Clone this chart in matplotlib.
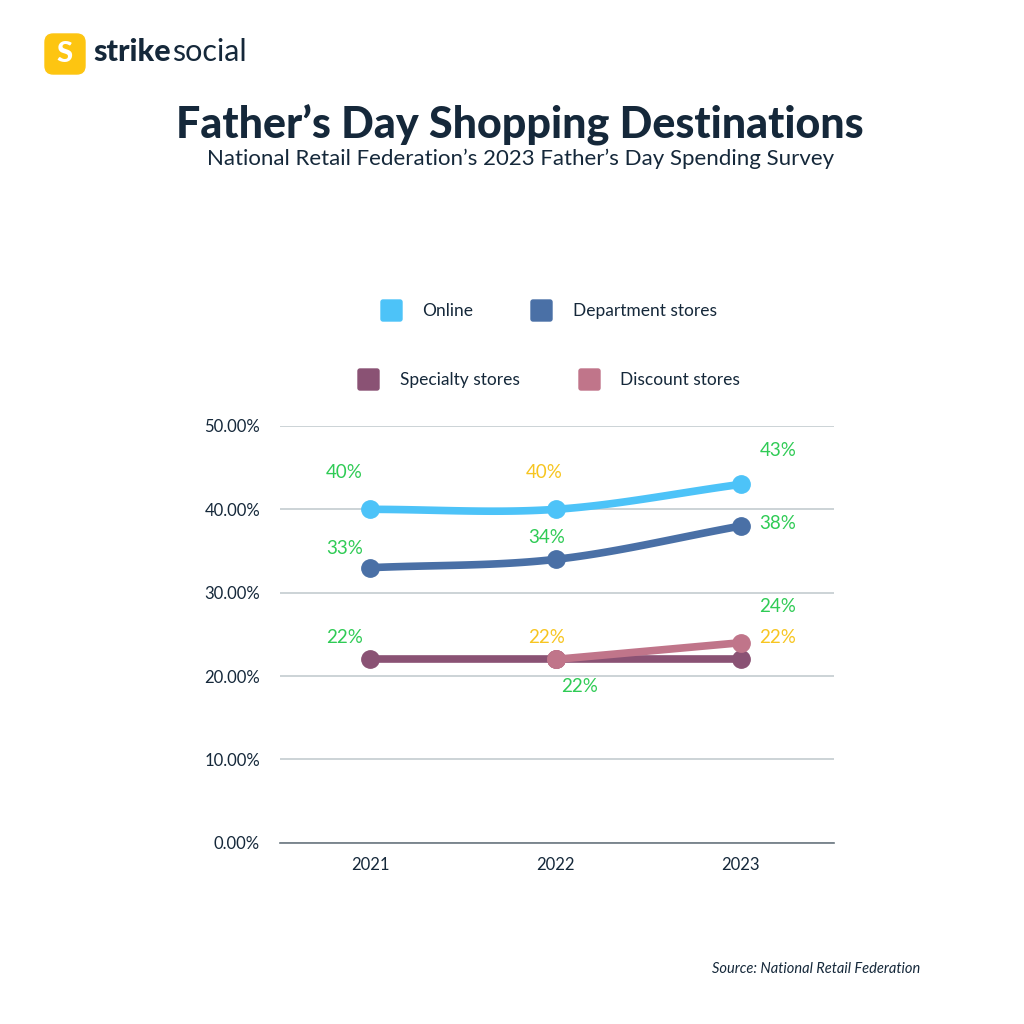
import matplotlib.pyplot as plt
import numpy as np
from matplotlib.patches import FancyBboxPatch

# data
years = ["2021", "2022", "2023"]
online = [40, 40, 43]
department = [33, 34, 38]
specialty = [22, 22, 22]
discount = [np.nan, 22, 24]

series_names = ["Online", "Department stores", "Specialty stores", "Discount stores"]
series_colors = ["#4DC3F8", "#4A70A6", "#8A5274", "#C0758A"]

GREEN = "#2FCB55"
YELLOW = "#F7C520"
NAVY = "#15283A"

# labels: (series index, point index, colour, dx px, dy px, va)
labels = [
    (0, 0, GREEN, -26, 28, "bottom"),
    (0, 1, YELLOW, -11, 28, "bottom"),
    (0, 2, GREEN, 37, 25, "bottom"),
    (1, 0, GREEN, -26, 11, "bottom"),
    (1, 1, GREEN, -9, 13, "bottom"),
    (1, 2, GREEN, 37, -6, "bottom"),
    (2, 0, GREEN, -26, 13, "bottom"),
    (2, 1, GREEN, 24, -19, "top"),
    (2, 2, YELLOW, 37, 13, "bottom"),
    (3, 1, YELLOW, -9, 13, "bottom"),
    (3, 2, GREEN, 37, 28, "bottom"),
]

plt.rcParams['font.family'] = ['Lato', 'DejaVu Sans']


def smooth(xs, ys, n=60):
    """cubic hermite curve through the points, for drawing only"""
    xs = np.asarray(xs, float)
    ys = np.asarray(ys, float)
    m = np.gradient(ys, xs)
    cx, cy = [], []
    for i in range(len(xs) - 1):
        t = np.linspace(0, 1, n)
        h = xs[i + 1] - xs[i]
        h00 = 2 * t**3 - 3 * t**2 + 1
        h10 = t**3 - 2 * t**2 + t
        h01 = -2 * t**3 + 3 * t**2
        h11 = t**3 - t**2
        cx.extend(xs[i] + t * h)
        cy.extend(h00 * ys[i] + h10 * h * m[i] + h01 * ys[i + 1] + h11 * h * m[i + 1])
    return np.array(cx), np.array(cy)


fig = plt.figure(figsize=(10.24, 10.24), dpi=100)
fig.patch.set_facecolor("white")

ax = fig.add_axes([0.273, 0.177, 0.541, 0.407])

all_series = [online, department, specialty, discount]
x = np.arange(len(years))
draw_order = [0, 1, 3, 2]
for k in draw_order:
    vals = np.array(all_series[k], float)
    ok = ~np.isnan(vals)
    cx, cy = smooth(x[ok], vals[ok])
    ax.plot(cx, cy, color=series_colors[k], lw=5.5, solid_capstyle="round", zorder=3 + k)
    ax.plot(x[ok], vals[ok], "o", color=series_colors[k], ms=12.5, zorder=3 + k)
# pink marker sits on top in 2022
ax.plot(x[1], discount[1], "o", color=series_colors[3], ms=12.5, zorder=10)

for s, p, col, dx, dy, va in labels:
    ax.annotate(f"{all_series[s][p]:.0f}%", (x[p], all_series[s][p]),
                xytext=(dx * 0.72, dy * 0.72), textcoords="offset points",
                ha="center", va=va, color=col, fontsize=13.5, zorder=20)

ax.set_xlim(-0.49, 2.5)
ax.set_ylim(0, 50)
ax.set_yticks(np.arange(0, 51, 10))
ax.set_yticklabels([f"{v:.2f}%" for v in np.arange(0, 51, 10)])
ax.set_xticks(x)
ax.set_xticklabels(years)
ax.tick_params(length=0, labelsize=12, labelcolor=NAVY, pad=14)
ax.tick_params(axis="x", pad=10)
ax.grid(axis="y", color="#C4CCD0", lw=1.2)
ax.set_axisbelow(True)
for side in ["top", "right", "left"]:
    ax.spines[side].set_visible(False)
ax.spines["bottom"].set_color("#6B7780")
ax.spines["bottom"].set_linewidth(1.2)

# legend, drawn by hand in two rows
legend_pos = [(381, 300, 422), (531, 300, 573), (358, 369, 400), (579, 369, 620)]
for k, (sx, sy, tx) in enumerate(legend_pos):
    fig.add_artist(FancyBboxPatch((sx / 1024, 1 - (sy + 21) / 1024), 21 / 1024, 21 / 1024,
                                  boxstyle="round,pad=0,rounding_size=0.002",
                                  transform=fig.transFigure, color=series_colors[k]))
    fig.text(tx / 1024, 1 - (sy + 11) / 1024, series_names[k], ha="left", va="center",
             fontsize=12.5, color=NAVY)

# titles
fig.text(0.508, 1 - 125 / 1024, "Father’s Day Shopping Destinations", ha="center", va="center",
         fontsize=31, fontweight="black", color=NAVY)
fig.text(0.508, 1 - 159 / 1024, "National Retail Federation’s 2023 Father’s Day Spending Survey",
         ha="center", va="center", fontsize=16, color=NAVY)

# logo
fig.add_artist(FancyBboxPatch((45 / 1024, 1 - 74 / 1024), 40 / 1024, 40 / 1024,
                              boxstyle="round,pad=0,rounding_size=0.008",
                              transform=fig.transFigure, color="#FDC511"))
fig.text(65 / 1024, 1 - 54 / 1024, "S", ha="center", va="center", fontsize=21,
         fontweight="black", color="white")
strike = fig.text(93 / 1024, 1 - 52 / 1024, "strike", ha="left", va="center", fontsize=22,
                  fontweight="black", color=NAVY)
fig.canvas.draw()
bb = strike.get_window_extent()
fig.text(bb.x1 / 1024 + 0.001, 1 - 52 / 1024, "social", ha="left", va="center", fontsize=22,
         fontweight="normal", color=NAVY)

fig.text(920 / 1024, 1 - 969 / 1024, "Source: National Retail Federation", ha="right",
         va="center", fontsize=10.5, style="italic", color=NAVY)

plt.savefig("out.png", dpi=100, facecolor="white")
